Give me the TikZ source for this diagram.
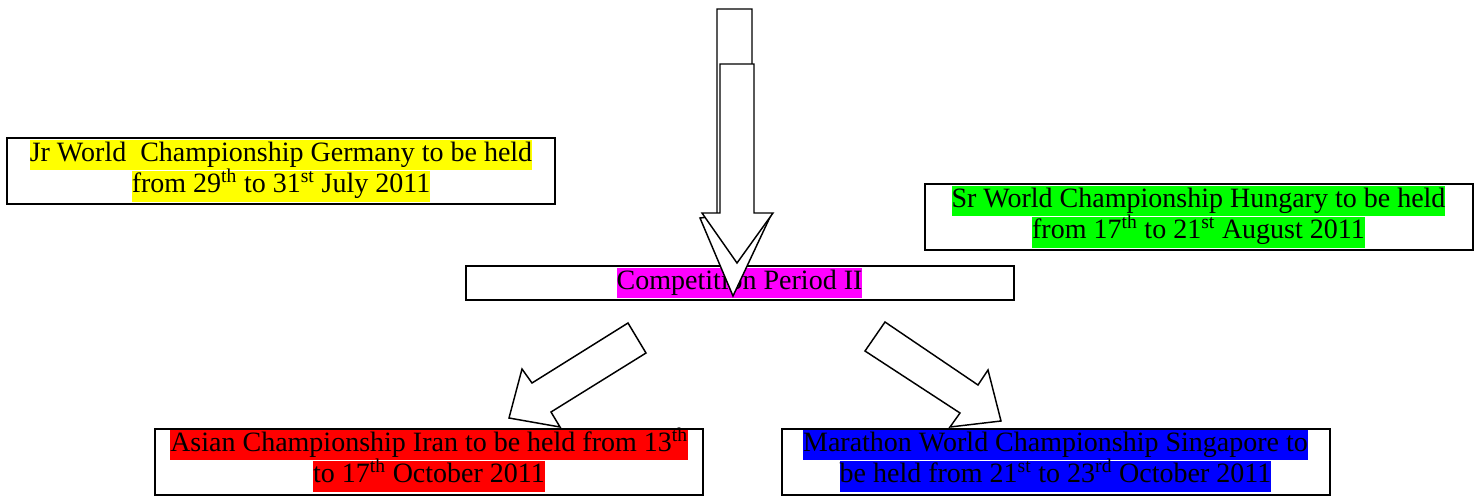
\documentclass[tikz,border=0pt]{standalone}
\usepackage{fontspec}
\setmainfont{Liberation Serif}
\usetikzlibrary{positioning}
\definecolor{hlyellow}{RGB}{255,255,0}
\definecolor{hlgreen}{RGB}{0,255,0}
\definecolor{hlmagenta}{RGB}{255,0,255}
\definecolor{hlred}{RGB}{255,0,0}
\definecolor{hlblue}{RGB}{0,0,255}
\tikzset{
  box/.style      = { draw, line width=1.5pt, minimum width=411pt, minimum height=49.5pt, inner sep=0pt },
  thinbox/.style  = { box, minimum height=25.5pt },
  hl/.style       = { fill=#1, inner xsep=0pt, inner ysep=0pt, text height=16.5pt, text depth=6.5pt,
                      font=\fontsize{21pt}{23pt}\selectfont },
  bigarrow/.style = { draw, fill=white, line width=1.1pt, line join=miter }
}

\begin{document}
\begin{tikzpicture}[x=0.75pt, y=-0.75pt]
    \useasboundingbox (0,0) rectangle (1481,497);

    \node[box]     (jr)   at (281,170.5)   {};
    \node[box]     (sr)   at (1198.5,216.5) {};
    \node[thinbox] (comp) at (739.5,283)   {};
    \node[box]     (asia) at (429,461.5)   {};
    \node[box]     (mara) at (1055.5,461.5) {};

    \node[hl=hlyellow]  (jr1) [below=2.25pt of jr.north] {Jr World~ Championship Germany to be held};
    \node[hl=hlyellow]  (jr2) [below=0pt of jr1]  {from 29\textsuperscript{th} to 31\textsuperscript{st} July 2011};

    \node[hl=hlgreen]   (sr1) [below=2.25pt of sr.north] {Sr World Championship Hungary to be held};
    \node[hl=hlgreen]   (sr2) [below=0pt of sr1]  {from 17\textsuperscript{th} to 21\textsuperscript{st} August 2011};

    \node[hl=hlmagenta] (comp1) at (comp.center) {Competition Period II};

    \node[hl=hlred]     (asia1) [below=1.5pt of asia.north] {Asian Championship Iran to be held from 13\textsuperscript{th}};
    \node[hl=hlred]     (asia2) [below=0pt of asia1] {to 17\textsuperscript{th} October 2011};

    \node[hl=hlblue]    (mara1) [below=1.5pt of mara.north] {Marathon World Championship Singapore to};
    \node[hl=hlblue]    (mara2) [below=0pt of mara1] {be held from 21\textsuperscript{st} to 23\textsuperscript{rd} October 2011};

    % block arrows
    \draw[bigarrow] (717,9) -- (752,9) -- (752,214) -- (771,215) -- (733,296) -- (700,218) -- (717,216) -- cycle;
    \draw[bigarrow] (720,64) -- (754,64) -- (754,213) -- (773,213) -- (737,263) -- (702,213) -- (720,213) -- cycle;

    \draw[bigarrow] (628,323) -- (646,353) -- (551,412) -- (560,427) -- (509,418) -- (522,369) -- (532,383) -- cycle;
    \draw[bigarrow] (885,322) -- (978,385) -- (988,370) -- (1001,421) -- (950,427) -- (960,413) -- (865,351) -- cycle;
\end{tikzpicture}
\end{document}
